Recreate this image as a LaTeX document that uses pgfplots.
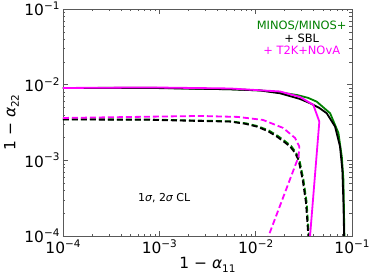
\documentclass[border=0pt]{standalone}
\usepackage{fontspec}
\setmainfont{DejaVu Sans}
\usepackage{pgfplots}
\pgfplotsset{compat=1.18}
\definecolor{mplgreen}{HTML}{008000}
\definecolor{mplmag}{HTML}{FF00FF}
\newcommand\sups[1]{\raisebox{0.42em}{\fontsize{10.5}{10.5}\selectfont #1}}
\newcommand\subs[1]{\raisebox{-0.22em}{\fontsize{10.5}{10.5}\selectfont #1}}
\begin{document}
\begin{tikzpicture}
\begin{axis}[
  xmode=log, ymode=log,
  scale only axis, width=289bp, height=227bp,
  xmin=1e-4, xmax=1e-1, ymin=1e-4, ymax=1e-1,
  axis line style={draw=black!65},
  every tick/.style={black!65},
  major tick length=5bp, minor tick length=2.5bp,
  tick align=inside,
  xtick={1e-4,1e-3,1e-2,1e-1},
  ytick={1e-4,1e-3,1e-2,1e-1},
  xticklabels={10\sups{−4},10\sups{−3},10\sups{−2},10\sups{−1}},
  yticklabels={10\sups{−4},10\sups{−3},10\sups{−2},10\sups{−1}},
  ticklabel style={font=\fontsize{15.5}{15.5}\selectfont},
  xlabel={1 − {\itshape α}\subs{11}},
  ylabel={1 − {\itshape α}\subs{22}},
  every axis x label/.style={at={(axis description cs:0.5,-0.128)}, anchor=center, font=\fontsize{15.5}{15.5}\selectfont},
  every axis y label/.style={at={(axis description cs:-0.178,0.5)}, rotate=90, anchor=center, font=\fontsize{15.5}{15.5}\selectfont},
  clip=true,
]
% green solid
\addplot[mplgreen, line width=1.8bp] coordinates {
(1e-4,0.00904)(0.0008,0.0091)(0.00542,0.0087)(0.0111,0.0084)(0.0179,0.0079)(0.0267,0.00731)(0.035,0.0067)(0.0431,0.00596)(0.0593,0.00419)(0.0723,0.0023)(0.0784,0.00112)(0.0815,0.00055)(0.0834,0.0001)};
% green dashed
\addplot[mplgreen, line width=1.8bp, dash pattern=on 6bp off 3bp] coordinates {
(1e-4,0.0035)(0.0008,0.00346)(0.00265,0.00335)(0.00542,0.00328)(0.008,0.00308)(0.0105,0.00283)(0.0137,0.00248)(0.017,0.0021)(0.0203,0.00178)(0.0233,0.00155)(0.0262,0.00127)(0.0284,0.00103)(0.0313,0.00056)(0.0338,0.00028)(0.0357,0.0001)};
% black solid
\addplot[black, line width=1.8bp] coordinates {
(1e-4,0.00904)(0.0008,0.00905)(0.00542,0.00869)(0.0111,0.00838)(0.0179,0.00769)(0.0289,0.00647)(0.0367,0.00568)(0.0455,0.00495)(0.0547,0.00419)(0.0667,0.00279)(0.0751,0.00152)(0.0794,0.000747)(0.0815,0.000274)(0.0828,0.0001)};
% black dashed
\addplot[black, line width=1.8bp, dash pattern=on 6bp off 3bp] coordinates {
(1e-4,0.00347)(0.0008,0.00343)(0.00265,0.00331)(0.00542,0.00325)(0.0078,0.00304)(0.0103,0.00279)(0.0134,0.00243)(0.0166,0.00206)(0.0198,0.00175)(0.0228,0.00152)(0.0257,0.00125)(0.0279,0.00101)(0.0308,0.00055)(0.0333,0.000274)(0.0352,0.0001)};
% magenta solid
\addplot[mplmag, line width=1.8bp] coordinates {
(1e-4,0.00904)(0.0008,0.0092)(0.00542,0.00891)(0.0179,0.00813)(0.0289,0.00688)(0.0397,0.0054)(0.0458,0.00325)(0.0367,0.0001)};
% magenta dashed
\addplot[mplmag, line width=1.8bp, dash pattern=on 6bp off 3bp] coordinates {
(1e-4,0.00363)(0.00265,0.00386)(0.0065,0.00375)(0.0119,0.00342)(0.0193,0.00268)(0.0256,0.00198)(0.0284,0.00152)(0.0279,0.00112)(0.0136,0.0001)};
\node[mplgreen, font=\fontsize{11.5}{11.5}\selectfont, anchor=center] at (axis description cs:0.826,0.927) {MINOS/MINOS+};
\node[black, font=\fontsize{11.5}{11.5}\selectfont, anchor=center] at (axis description cs:0.826,0.872) {+ SBL};
\node[mplmag, font=\fontsize{11.5}{11.5}\selectfont, anchor=center] at (axis description cs:0.826,0.817) {+ T2K+NOvA};
\node[black, font=\fontsize{11}{11}\selectfont, anchor=center] at (axis description cs:0.35,0.165) {1{\itshape σ}, 2{\itshape σ} CL};
\end{axis}
\pgfresetboundingbox
\path (current axis.south west) ++(-63bp,-44bp) rectangle ++(374bp,280bp);
\end{tikzpicture}
\end{document}
